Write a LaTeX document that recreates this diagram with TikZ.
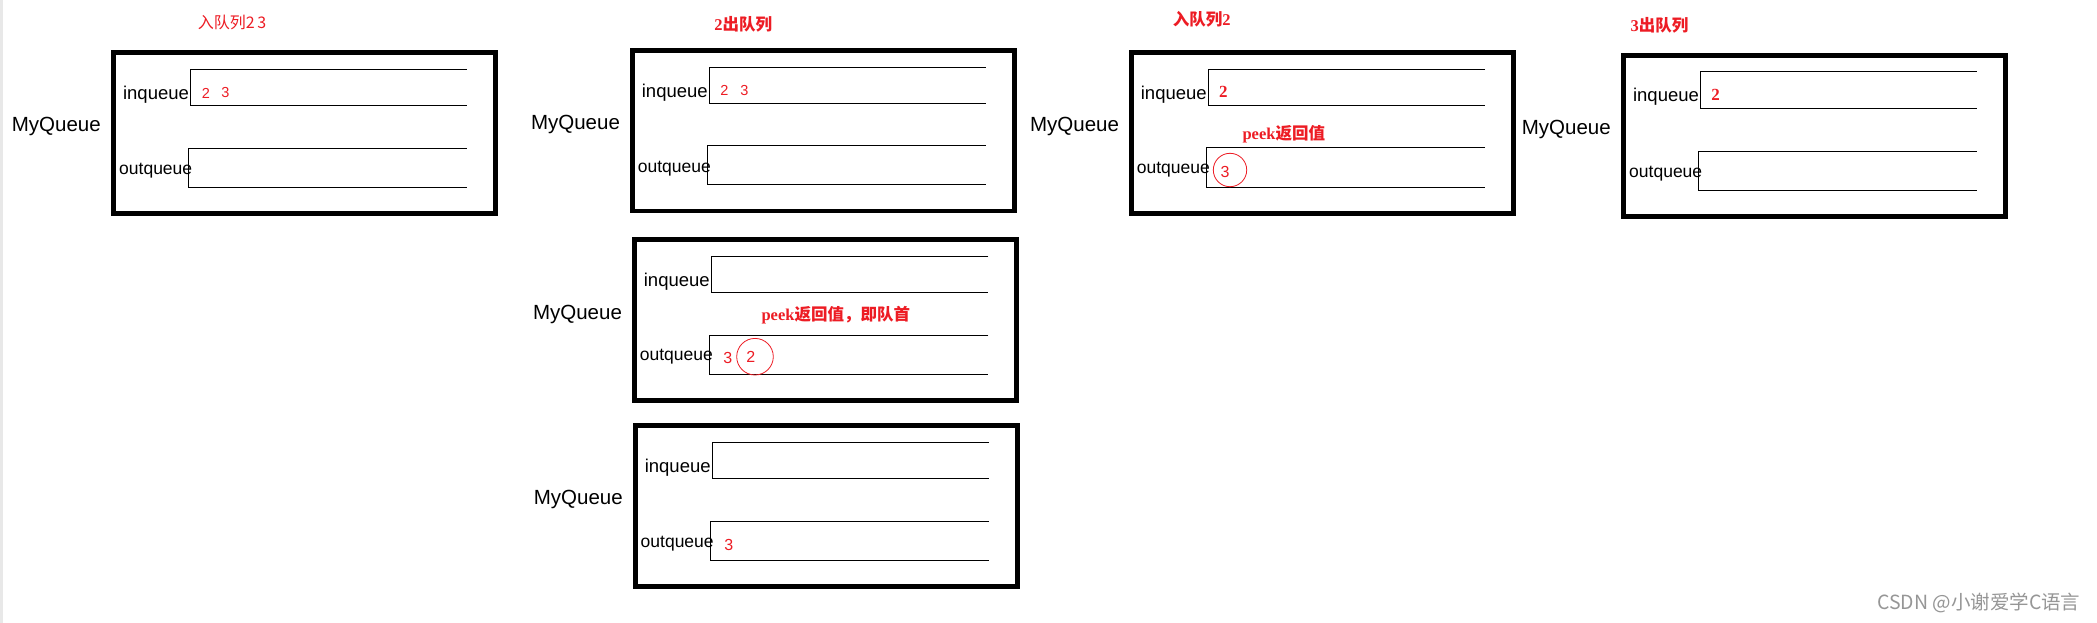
\documentclass[tikz,border=0pt]{standalone}
\usepackage{fontspec}
\setmainfont{Liberation Sans}
\newfontfamily\cjk{Noto Sans CJK SC}
\newfontfamily\serifb{Liberation Serif}
\definecolor{qred}{RGB}{237,28,36}
\definecolor{wm}{RGB}{150,150,150}
\begin{document}
\begin{tikzpicture}[x=1pt,y=-1pt,
  bigbox/.style={draw, line width=4.7pt, inner sep=0pt, minimum width=382pt, minimum height=160.7pt},
  qline/.style={line width=1pt},
  mylbl/.style={inner sep=0pt, font=\fontsize{20.5}{20.5}\selectfont},
  inlbl/.style={inner sep=0pt, font=\fontsize{18.5}{18.5}\selectfont},
  outlbl/.style={inner sep=0pt, font=\fontsize{17.5}{17.5}\selectfont},
  rednum/.style={inner sep=0pt, text=qred, font=\fontsize{14.5}{14.5}\selectfont},
  bignum/.style={inner sep=0pt, text=qred, font=\fontsize{16}{16}\selectfont},
  boldnum/.style={inner sep=0pt, text=qred, font=\fontsize{17}{17}\serifb\bfseries},
  sanstitle/.style={inner sep=0pt, text=qred, font=\fontsize{16}{16}\cjk},
  boldtitle/.style={inner sep=0pt, text=qred, font=\fontsize{16.5}{16.5}\selectfont},
  peekc/.style={draw=qred, circle, line width=0.8pt, inner sep=0pt},
  wmark/.style={inner sep=0pt, text=wm, font=\fontsize{19.5}{19.5}\cjk}
]
\useasboundingbox (0,0) rectangle (2097,623);
\fill[white] (0,0) rectangle (2097,623);
\fill[black!9] (0,0) rectangle (2.5,623);

% ---------- Panel 1 ----------
\node[bigbox] (box1) at (304.4,133.0) {};
\node[mylbl] (mq1) at (56.3,126.7) {MyQueue};
\node[inlbl] (in1) at (156,94.5) {inqueue};
\node[outlbl] (out1) at (155.7,170.7) {outqueue};
\draw[qline] (466.7,69.3) -| (190.3,105.3) -- (466.7,105.3);
\draw[qline] (466.7,148.3) -| (188.3,187.3) -- (466.7,187.3);
\node[rednum] (n1a) at (206,93) {2};
\node[rednum] (n1b) at (225.5,93) {3};
\node[sanstitle] (t1) at (232,22.7) {入队列2\,3};

% ---------- Panel 2 ----------
\node[bigbox, minimum height=160.3pt] (box2) at (823.35,130.8) {};
\node[mylbl] (mq2) at (575.5,124.3) {MyQueue};
\node[inlbl] (in2) at (674.8,92.3) {inqueue};
\node[outlbl] (out2) at (674.3,168.3) {outqueue};
\draw[qline] (985.7,67.3) -| (709.3,103.3) -- (985.7,103.3);
\draw[qline] (985.7,146) -| (707.3,185) -- (985.7,185);
\node[rednum] (n2a) at (724.5,90.7) {2};
\node[rednum] (n2b) at (744.3,90.7) {3};
\node[boldtitle] (t2) at (743.3,24.3) {{\serifb\bfseries 2}{\cjk\bfseries 出队列}};

% ---------- Panel 3 ----------
\node[bigbox] (box3) at (1322.35,133) {};
\node[mylbl] (mq3) at (1074.6,126.7) {MyQueue};
\node[inlbl] (in3) at (1173.8,94.3) {inqueue};
\node[outlbl] (out3) at (1173.3,170) {outqueue};
\draw[qline] (1485,69.3) -| (1208.3,105.3) -- (1485,105.3);
\draw[qline] (1485,148) -| (1206.3,187.3) -- (1485,187.3);
\node[boldnum] (n3a) at (1223.3,91.7) {2};
\node[boldtitle] (pk3) at (1283.8,134) {{\serifb\bfseries peek}{\cjk\bfseries 返回值}};
\node[peekc, minimum size=33.4pt] (c3) at (1230,170) {};
\node[bignum] (n3b) at (1225,171.7) {3};
\node[boldtitle] (t3) at (1201.7,19) {{\cjk\bfseries 入队列}{\serifb\bfseries 2}};

% ---------- Panel 4 ----------
\node[bigbox, minimum height=161.3pt] (box4) at (1814.35,136) {};
\node[mylbl] (mq4) at (1566.3,129.3) {MyQueue};
\node[inlbl] (in4) at (1666,96.5) {inqueue};
\node[outlbl] (out4) at (1665.7,173.3) {outqueue};
\draw[qline] (1976.7,72) -| (1700.3,108.3) -- (1976.7,108.3);
\draw[qline] (1976.7,151.3) -| (1698.3,190.3) -- (1976.7,190.3);
\node[boldnum] (n4a) at (1715.5,95) {2};
\node[boldtitle] (t4) at (1659.5,25) {{\serifb\bfseries 3}{\cjk\bfseries 出队列}};

% ---------- Panel 5 ----------
\node[bigbox] (box5) at (825.65,320) {};
\node[mylbl] (mq5) at (577.5,314) {MyQueue};
\node[inlbl] (in5) at (676.8,281.7) {inqueue};
\node[outlbl] (out5) at (676.3,356.7) {outqueue};
\draw[qline] (988.3,256) -| (711,292.3) -- (988.3,292.3);
\draw[qline] (988.3,335.3) -| (709,374.3) -- (988.3,374.3);
\node[boldtitle] (pk5) at (835.8,315) {{\serifb\bfseries peek}{\cjk\bfseries 返回值，即队首}};
\node[bignum] (n5a) at (727.7,357.7) {3};
\node[peekc, minimum size=36.6pt] (c5) at (755,356.7) {};
\node[bignum] (n5b) at (750.7,357.3) {2};

% ---------- Panel 6 ----------
\node[bigbox] (box6) at (826.65,506) {};
\node[mylbl] (mq6) at (578.3,499.3) {MyQueue};
\node[inlbl] (in6) at (677.7,467.3) {inqueue};
\node[outlbl] (out6) at (677.2,543.3) {outqueue};
\draw[qline] (989,442.3) -| (712.3,478.3) -- (989,478.3);
\draw[qline] (989,521) -| (710.3,560.3) -- (989,560.3);
\node[bignum] (n6a) at (728.8,544.7) {3};

% ---------- watermark ----------
\node[wmark] (wm) at (1978.8,602.7) {CSDN @小谢爱学C语言};
\end{tikzpicture}
\end{document}
